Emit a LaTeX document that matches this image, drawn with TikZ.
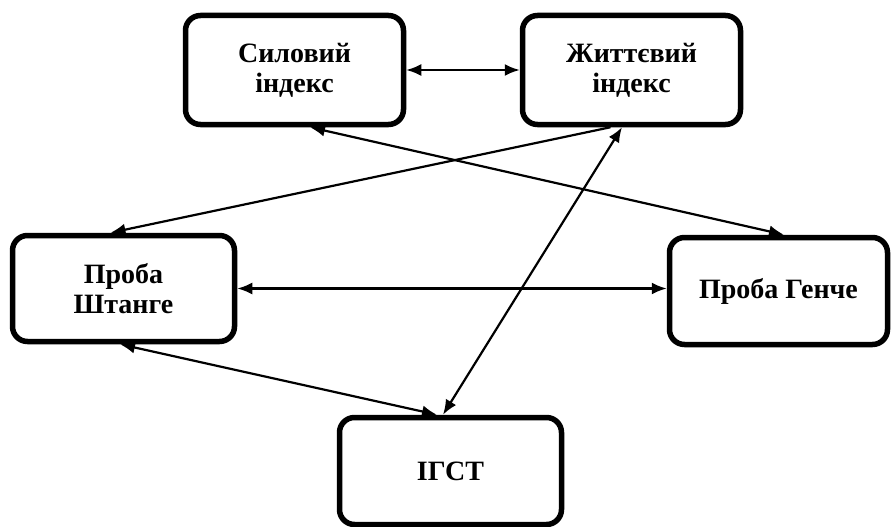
\documentclass[tikz,border=0pt]{standalone}
\usepackage{fontspec}
\setmainfont{Liberation Serif}
\usetikzlibrary{arrows.meta}
\begin{document}
\begin{tikzpicture}[x=1pt,y=-1pt,
  block/.style={draw=black, line width=5.5pt, rounded corners=15pt, fill=white,
    align=center, font=\bfseries\fontsize{28}{30}\selectfont, inner sep=0pt},
  tip/.tip={Latex[length=15pt,width=12pt]},
  link/.style={line width=2.2pt, tip-tip},
  oneway/.style={line width=2.2pt, -tip}]
\useasboundingbox (0,0) rectangle (892,527);
% indices
\node[block, minimum width=218pt, minimum height=109pt] (sil) at (294.5,70) {Силовий\\індекс};
\node[block, minimum width=218pt, minimum height=109pt] (zhyt) at (631.5,70) {Життєвий\\індекс};
% breath-holding tests
\node[block, minimum width=222pt, minimum height=106pt] (sht) at (123.5,288.5) {Проба\\Штанге};
\node[block, minimum width=218pt, minimum height=107pt] (gen) at (778.5,291) {Проба Генче};
\node[block, minimum width=222pt, minimum height=107pt] (igst) at (450.5,471) {ІГСТ};
% connectors
\draw[link] (sil.east) -- (zhyt.west);
\draw[link] ([xshift=15.5pt]sil.south) -- ([xshift=5.5pt]gen.north);
\draw[oneway] ([xshift=-21pt]zhyt.south) -- ([xshift=-13pt]sht.north);
\draw[link] (sht.east) -- (sht.east -| gen.west);
\draw[link] ([xshift=-3.5pt]sht.south) -- ([xshift=-13.5pt]igst.north);
\draw[link] ([xshift=-9.5pt]zhyt.south) -- ([xshift=-7.5pt]igst.north);
\end{tikzpicture}
\end{document}
